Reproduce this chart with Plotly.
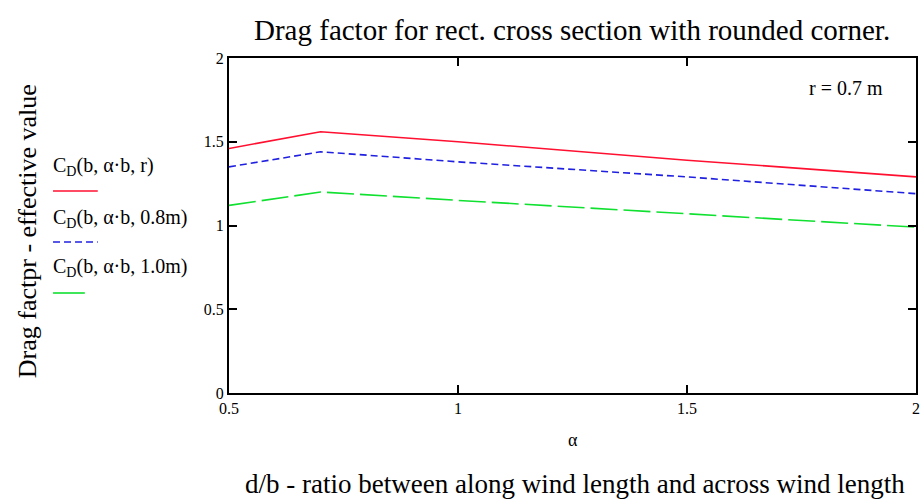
import plotly.graph_objects as go

alpha = [0.5, 0.7, 1.0, 1.5, 2.0]
cd_r07 = [1.46, 1.56, 1.50, 1.39, 1.29]
cd_r08 = [1.35, 1.44, 1.38, 1.29, 1.19]
cd_r10 = [1.12, 1.20, 1.15, 1.07, 0.99]

legend_labels = ["C<sub>D</sub>(b, α·b, r)", "C<sub>D</sub>(b, α·b, 0.8m)", "C<sub>D</sub>(b, α·b, 1.0m)"]
colors = ["#ff1030", "#2020e0", "#10e030"]
dashes = ["solid", "7px,4px", "27px,6px"]
series = [cd_r07, cd_r08, cd_r10]

W, H = 922, 500
L, R, T, B = 229, 2, 58, 107
pw, ph = W - L - R, H - T - B

def px(x):
    return (x - L) / pw

def py(y):
    return (H - B - y) / ph

FONT = "Liberation Serif, Times New Roman, serif"

fig = go.Figure()
for vals, c, d, name in zip(series, colors, dashes, legend_labels):
    fig.add_trace(go.Scatter(x=alpha, y=vals, mode="lines", name=name,
                             line=dict(color=c, width=1.6, dash=d), showlegend=False))

annotations = []
shapes = []
leg_text_y = [166, 218, 267]
leg_line_y = [191, 242, 293]
leg_line_x2 = [97, 97, 84]
leg_dash = ["solid", "7px,4px", "solid"]
for i in range(3):
    annotations.append(dict(text=legend_labels[i], xref="paper", yref="paper",
                            x=px(50), y=py(leg_text_y[i]), xanchor="left", yanchor="middle",
                            showarrow=False, font=dict(family=FONT, size=20, color="black")))
    shapes.append(dict(type="line", xref="paper", yref="paper",
                       x0=px(52), x1=px(leg_line_x2[i]), y0=py(leg_line_y[i]), y1=py(leg_line_y[i]),
                       line=dict(color=colors[i], width=1.6, dash=leg_dash[i])))

annotations.append(dict(text="r = 0.7 m", xref="paper", yref="paper", x=px(889), y=py(88),
                        xanchor="right", yanchor="middle", showarrow=False,
                        font=dict(family=FONT, size=20, color="black")))
annotations.append(dict(text="α", xref="paper", yref="paper", x=px(575), y=py(440),
                        xanchor="center", yanchor="middle", showarrow=False,
                        font=dict(family=FONT, size=18, color="black")))
annotations.append(dict(text="d/b - ratio between along wind length and across wind length",
                        xref="paper", yref="paper", x=px(577), y=py(484),
                        xanchor="center", yanchor="middle", showarrow=False,
                        font=dict(family=FONT, size=27, color="black")))
annotations.append(dict(text="Drag factpr - effective value", xref="paper", yref="paper",
                        x=px(26), y=py(231), xanchor="center", yanchor="middle", textangle=-90,
                        showarrow=False, font=dict(family=FONT, size=26, color="black")))
annotations.append(dict(text="Drag factor for rect. cross section with rounded corner.",
                        xref="paper", yref="paper", x=px(574), y=py(30),
                        xanchor="center", yanchor="middle", showarrow=False,
                        font=dict(family=FONT, size=29, color="black")))

fig.update_layout(
    width=W, height=H,
    margin=dict(l=L, r=R, t=T, b=B),
    paper_bgcolor="white", plot_bgcolor="white",
    annotations=annotations, shapes=shapes,
    xaxis=dict(range=[0.5, 2.0], tickvals=[0.5, 1, 1.5, 2], ticktext=["0.5", "1", "1.5", "2"],
               ticks="inside", ticklen=8, tickwidth=2, tickcolor="black",
               showline=True, linecolor="black", linewidth=2, mirror="ticks",
               showgrid=False, zeroline=False,
               tickfont=dict(family=FONT, size=16, color="black")),
    yaxis=dict(range=[0, 2], tickvals=[0, 0.5, 1, 1.5, 2],
               ticks="inside", ticklen=8, tickwidth=2, tickcolor="black",
               showline=True, linecolor="black", linewidth=2, mirror="ticks",
               showgrid=False, zeroline=False,
               tickfont=dict(family=FONT, size=16, color="black")),
)

fig.write_html("out.html")
